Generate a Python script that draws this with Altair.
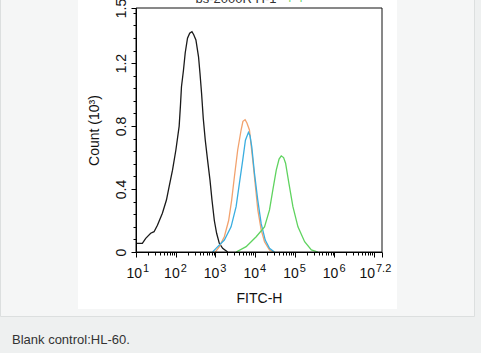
import altair as alt
import pandas as pd

FONT = "Liberation Sans"

# ---- data (x as log10 of FITC-H, y in thousands) ----
SERIES = ["Blank control", "Isotype", "Antibody A", "Antibody B"]
COLORS = ["#1a1a1a", "#f2a26e", "#3aaee0", "#5fd35f"]

BLACK_EXP = [1.0, 1.16, 1.245, 1.37, 1.455, 1.54, 1.665, 1.767, 1.835, 1.92, 2.005, 2.088,
             2.12, 2.146, 2.197, 2.24, 2.298, 2.353, 2.41, 2.455, 2.51, 2.576, 2.612, 2.652,
             2.695, 2.746, 2.804, 2.865, 2.915, 2.974, 3.032, 3.10, 3.184, 3.31]
BLACK_CNT = [0.055, 0.055, 0.087, 0.119, 0.129, 0.17, 0.246, 0.33, 0.415, 0.52, 0.648, 0.80,
             0.93, 1.05, 1.156, 1.264, 1.358, 1.39, 1.40, 1.38, 1.347, 1.24, 1.137, 1.01,
             0.85, 0.71, 0.584, 0.457, 0.33, 0.2, 0.119, 0.055, 0.023, 0.0]

ORANGE_EXP = [3.0, 3.10, 3.226, 3.335, 3.411, 3.48, 3.563, 3.649, 3.695, 3.75, 3.796, 3.859,
              3.943, 4.011, 4.07, 4.155, 4.239, 4.365, 4.467]
ORANGE_CNT = [0.0, 0.034, 0.097, 0.2, 0.33, 0.478, 0.648, 0.775, 0.83, 0.84, 0.82, 0.775,
              0.584, 0.415, 0.267, 0.14, 0.065, 0.013, 0.0]

BLUE_EXP = [2.93, 3.017, 3.227, 3.396, 3.523, 3.606, 3.69, 3.758, 3.834, 3.872, 3.917, 3.986,
            4.069, 4.155, 4.257, 4.365, 4.49]
BLUE_CNT = [0.0, 0.023, 0.076, 0.16, 0.288, 0.436, 0.584, 0.71, 0.76, 0.74, 0.67, 0.5,
            0.33, 0.18, 0.076, 0.023, 0.0]

GREEN_EXP = [3.523, 3.776, 4.029, 4.239, 4.365, 4.449, 4.535, 4.606, 4.661, 4.72, 4.77, 4.854,
             4.955, 5.082, 5.25, 5.42, 5.587]
GREEN_CNT = [0.0, 0.034, 0.097, 0.16, 0.267, 0.394, 0.52, 0.59, 0.61, 0.6, 0.564, 0.436,
             0.288, 0.16, 0.065, 0.013, 0.0]

TICK_EXP_MAIN = [2, 3, 4, 5, 6]
TICK_EXP_FIRST = [1]
TICK_EXP_LAST = [7.2]
Y_MAJOR = [0, 0.4, 0.8, 1.2, 1.55]
Y_MINOR = [0.08, 0.16, 0.24, 0.32, 0.48, 0.56, 0.64, 0.72, 0.88, 0.96, 1.04, 1.12,
           1.28, 1.36, 1.44, 1.52]
CAPTION = "Blank control:HL-60."

rows = []
for i, (name, es, cs) in enumerate(zip(SERIES, [BLACK_EXP, ORANGE_EXP, BLUE_EXP, GREEN_EXP],
                                       [BLACK_CNT, ORANGE_CNT, BLUE_CNT, GREEN_CNT])):
    for e, c in zip(es, cs):
        rows.append({"series": name, "fitc": 10 ** e, "count": c})
df = pd.DataFrame(rows)

X_MAJOR = [10 ** d for d in [1, 2, 3, 4, 5, 6, 7]] + [10 ** 7.2]
X_MINOR = [k * 10 ** d for d in range(1, 7) for k in range(2, 10)]

W, H = 246, 244
xs = alt.Scale(type="log", domain=[10, 10 ** 7.2], nice=False)
ys = alt.Scale(domain=[0, 1.55], nice=False, zero=True)

one = pd.DataFrame({"a": [0]})

card = alt.Chart(one).mark_rect(fill="#f5f6f6", stroke="#dcdfdf", strokeWidth=1).encode(
    x=alt.value(-135.5), x2=alt.value(338.5), y=alt.value(-8.5), y2=alt.value(308.5))
panel = alt.Chart(one).mark_rect(fill="#ffffff").encode(
    x=alt.value(-58), x2=alt.value(261), y=alt.value(-8), y2=alt.value(301))

top1 = alt.Chart(one).mark_text(text="bs-2000R H-1", font=FONT, fontSize=13, color="#333",
                                align="center", baseline="alphabetic").encode(
    x=alt.value(100), y=alt.value(-5))
top2 = alt.Chart(one).mark_text(text="+ +", font=FONT, fontSize=13, color="#5fd35f",
                                align="left", baseline="alphabetic").encode(
    x=alt.value(150), y=alt.value(-5))

curves = alt.Chart(df).mark_line(strokeWidth=1.3, clip=True).encode(
    x=alt.X("fitc:Q", scale=xs, axis=alt.Axis(
        values=X_MAJOR, labels=False, tickSize=5, tickColor="#000", domainColor="#000",
        tickWidth=1, domainWidth=1, grid=False, orient="bottom", zindex=1,
        title="FITC-H", titleFont=FONT, titleFontSize=14, titleFontWeight="normal",
        titleColor="#111", titlePadding=34)),
    y=alt.Y("count:Q", scale=ys, axis=alt.Axis(
        values=Y_MAJOR, tickSize=5, tickColor="#000", domainColor="#000", grid=False,
        orient="left", zindex=1, labelAngle=270, labelAlign="center",
        labelBaseline="alphabetic", labelPadding=6, labelFont=FONT, labelFontSize=14,
        labelColor="#111",
        labelExpr="datum.value == 0 ? '0' : (datum.value > 1.5 ? '1.5' : format(datum.value, '.1f'))",
        title="Count (10³)", titleFont=FONT, titleFontSize=14, titleFontWeight="normal",
        titleColor="#111", titlePadding=13)),
    color=alt.Color("series:N", scale=alt.Scale(domain=SERIES, range=COLORS), legend=None),
    detail="series:N",
)

minor = alt.Chart(df).mark_point(opacity=0).encode(
    x=alt.X("fitc:Q", scale=xs, axis=alt.Axis(
        values=X_MINOR, labels=False, domain=False, tickSize=3, tickColor="#000",
        grid=False, orient="bottom", zindex=1, title=None)),
    y=alt.Y("count:Q", scale=ys, axis=alt.Axis(
        values=Y_MINOR, labels=False, domain=False, tickSize=3, tickColor="#000",
        grid=False, orient="left", zindex=1, title=None)),
)

frame = alt.Chart(one).mark_rect(fillOpacity=0, stroke="#111", strokeWidth=1).encode(
    x=alt.value(0), x2=alt.value(W), y=alt.value(0), y2=alt.value(H))


def tick_labels(exps, shift):
    d = pd.DataFrame({"fitc": [10 ** e for e in exps], "exp": [str(e) for e in exps]})
    base = alt.Chart(d).mark_text(text="10", font=FONT, fontSize=14, color="#111",
                                  align="right", baseline="alphabetic", dx=4 + shift).encode(
        x=alt.X("fitc:Q", scale=xs, axis=None), y=alt.value(H + 26))
    sup = alt.Chart(d).mark_text(font=FONT, fontSize=11, color="#111",
                                 align="left", baseline="alphabetic", dx=5 + shift).encode(
        x=alt.X("fitc:Q", scale=xs, axis=None), y=alt.value(H + 20), text="exp:N")
    return [base, sup]


labels = tick_labels(TICK_EXP_FIRST, 2) + tick_labels(TICK_EXP_MAIN, 0) + tick_labels(TICK_EXP_LAST, -11)

caption = alt.Chart(one).mark_text(text=CAPTION, font=FONT, fontSize=13, color="#333",
                                   align="left", baseline="alphabetic").encode(
    x=alt.value(-124), y=alt.value(336))

chart = alt.layer(card, panel, top1, top2, curves, minor, frame, *labels, caption).resolve_axis(
    x="independent", y="independent"
).properties(
    width=W, height=H,
    padding={"left": 136, "top": 8, "right": 99, "bottom": 101},
    autosize=alt.AutoSizeParams(type="none"),
    background="#eef0f0",
).configure_view(stroke="transparent")

chart.save("out.html", embed_options={"renderer": "svg", "actions": False})
